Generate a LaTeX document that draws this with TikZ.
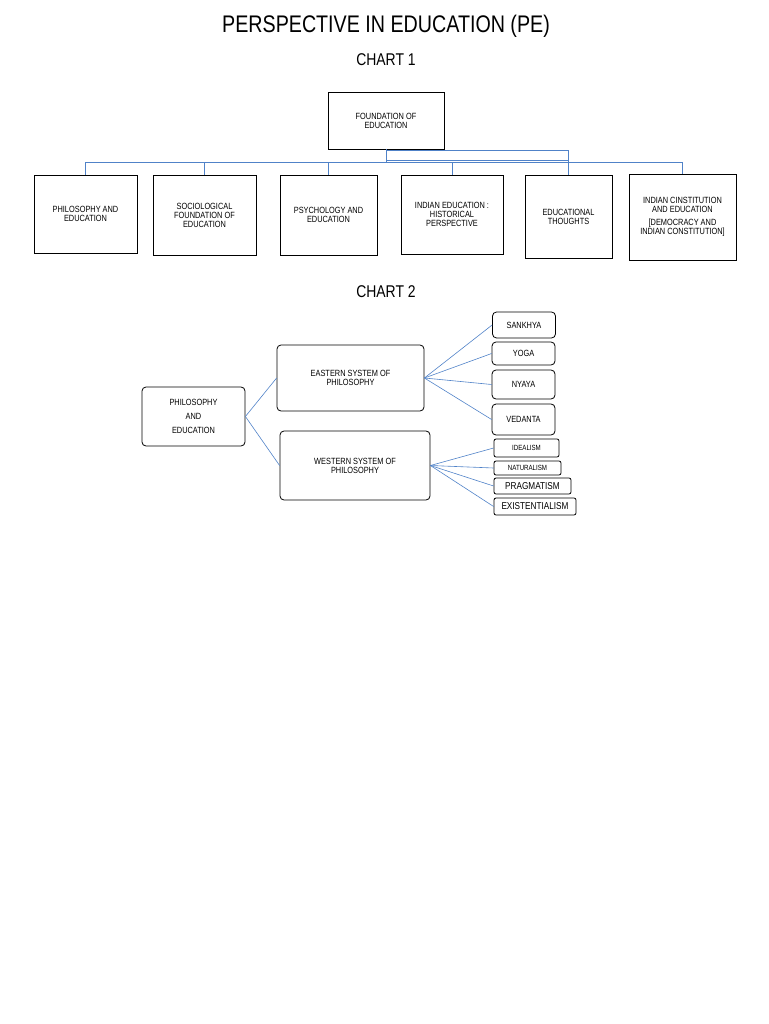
\documentclass[tikz,border=0pt]{standalone}
\usepackage{fontspec}
\setmainfont[FakeStretch=0.82]{Liberation Sans}
\definecolor{linkblue}{RGB}{80,130,200}
\begin{document}
\begin{tikzpicture}[x=1pt,y=-1pt]

\tikzset{box/.style = {draw,thick,align=center,font=\fontsize{9}{9}\selectfont,inner sep=1pt}}
\tikzset{rbox/.style = {box,rounded corners=4pt}}
\tikzset{link/.style = {linkblue,line width=0.6pt}}

\useasboundingbox (0,0) rectangle (768,1024);

\node[font=\fontsize{24}{24}\selectfont] (title) at (386,26) {PERSPECTIVE IN EDUCATION (PE)};
\node[font=\fontsize{17}{17}\selectfont] (ch1) at (386,60) {CHART 1};
\node[font=\fontsize{17}{17}\selectfont] (ch2) at (386,292) {CHART 2};

% chart 1
\node[box,minimum width=116pt,minimum height=57pt] (found) at (386,121) {FOUNDATION OF\\EDUCATION};

\node[box,minimum width=103pt,minimum height=78pt] (phil) at (85.5,214) {PHILOSOPHY AND\\EDUCATION};
\node[box,minimum width=103pt,minimum height=80pt] (soc) at (204.5,215) {SOCIOLOGICAL\\FOUNDATION OF\\EDUCATION};
\node[box,minimum width=97pt,minimum height=80pt] (psy) at (328.5,215) {PSYCHOLOGY AND\\EDUCATION};
\node[box,minimum width=102pt,minimum height=79pt] (ind) at (452,214.5) {INDIAN EDUCATION :\\HISTORICAL\\PERSPECTIVE};
\node[box,minimum width=87pt,minimum height=83pt] (thou) at (568.5,216.5) {EDUCATIONAL\\THOUGHTS};
\node[box,minimum width=107pt,minimum height=86pt] (cons) at (682.5,217) {INDIAN CINSTITUTION\\AND EDUCATION\\[4pt][DEMOCRACY AND\\INDIAN CONSTITUTION]};

\coordinate (bus) at (386,162);
\draw[link] (found.south) -- (bus);
\foreach \n in {phil,soc,psy,ind,thou,cons}
  \draw[link] (bus) -| (\n.north);
\draw[link] (found.south) ++(0,-1) -- ++(0,1) -| (thou.north);
\draw[link] (386,160) -- (568.5,160);

% chart 2
\node[rbox,minimum width=103pt,minimum height=59pt,font=\fontsize{9}{14}\selectfont] (pe) at (193.5,416.5) {PHILOSOPHY\\AND\\EDUCATION};
\node[rbox,minimum width=147pt,minimum height=66pt] (east) at (350.5,378) {EASTERN SYSTEM OF\\PHILOSOPHY};
\node[rbox,minimum width=150pt,minimum height=69pt] (west) at (355,465.5) {WESTERN SYSTEM OF\\PHILOSOPHY};

\node[rbox,minimum width=63pt,minimum height=26pt] (sank) at (524,325) {SANKHYA};
\node[rbox,minimum width=63pt,minimum height=23pt] (yoga) at (523.5,353.5) {YOGA};
\node[rbox,minimum width=63pt,minimum height=29pt] (nyay) at (523.5,384.5) {NYAYA};
\node[rbox,minimum width=63pt,minimum height=31pt] (veda) at (523.5,419.5) {VEDANTA};

\node[rbox,rounded corners=2pt,minimum width=65pt,minimum height=18pt,font=\fontsize{7.5}{8}\selectfont] (idea) at (526.5,448) {IDEALISM};
\node[rbox,rounded corners=2pt,minimum width=67pt,minimum height=14pt,font=\fontsize{7.5}{8}\selectfont] (natu) at (527.5,468) {NATURALISM};
\node[rbox,rounded corners=2pt,minimum width=77pt,minimum height=16pt,font=\fontsize{10}{10}\selectfont] (prag) at (532.5,486) {PRAGMATISM};
\node[rbox,rounded corners=2pt,minimum width=82pt,minimum height=17pt,font=\fontsize{10}{10}\selectfont] (exis) at (535,506.5) {EXISTENTIALISM};

\draw[link] (pe.east) -- (east.west);
\draw[link] (pe.east) -- (west.west);
\foreach \n in {sank,yoga,nyay,veda}
  \draw[link] (east.east) -- (\n.west);
\foreach \n in {idea,natu,prag,exis}
  \draw[link] (west.east) -- (\n.west);

\end{tikzpicture}
\end{document}
